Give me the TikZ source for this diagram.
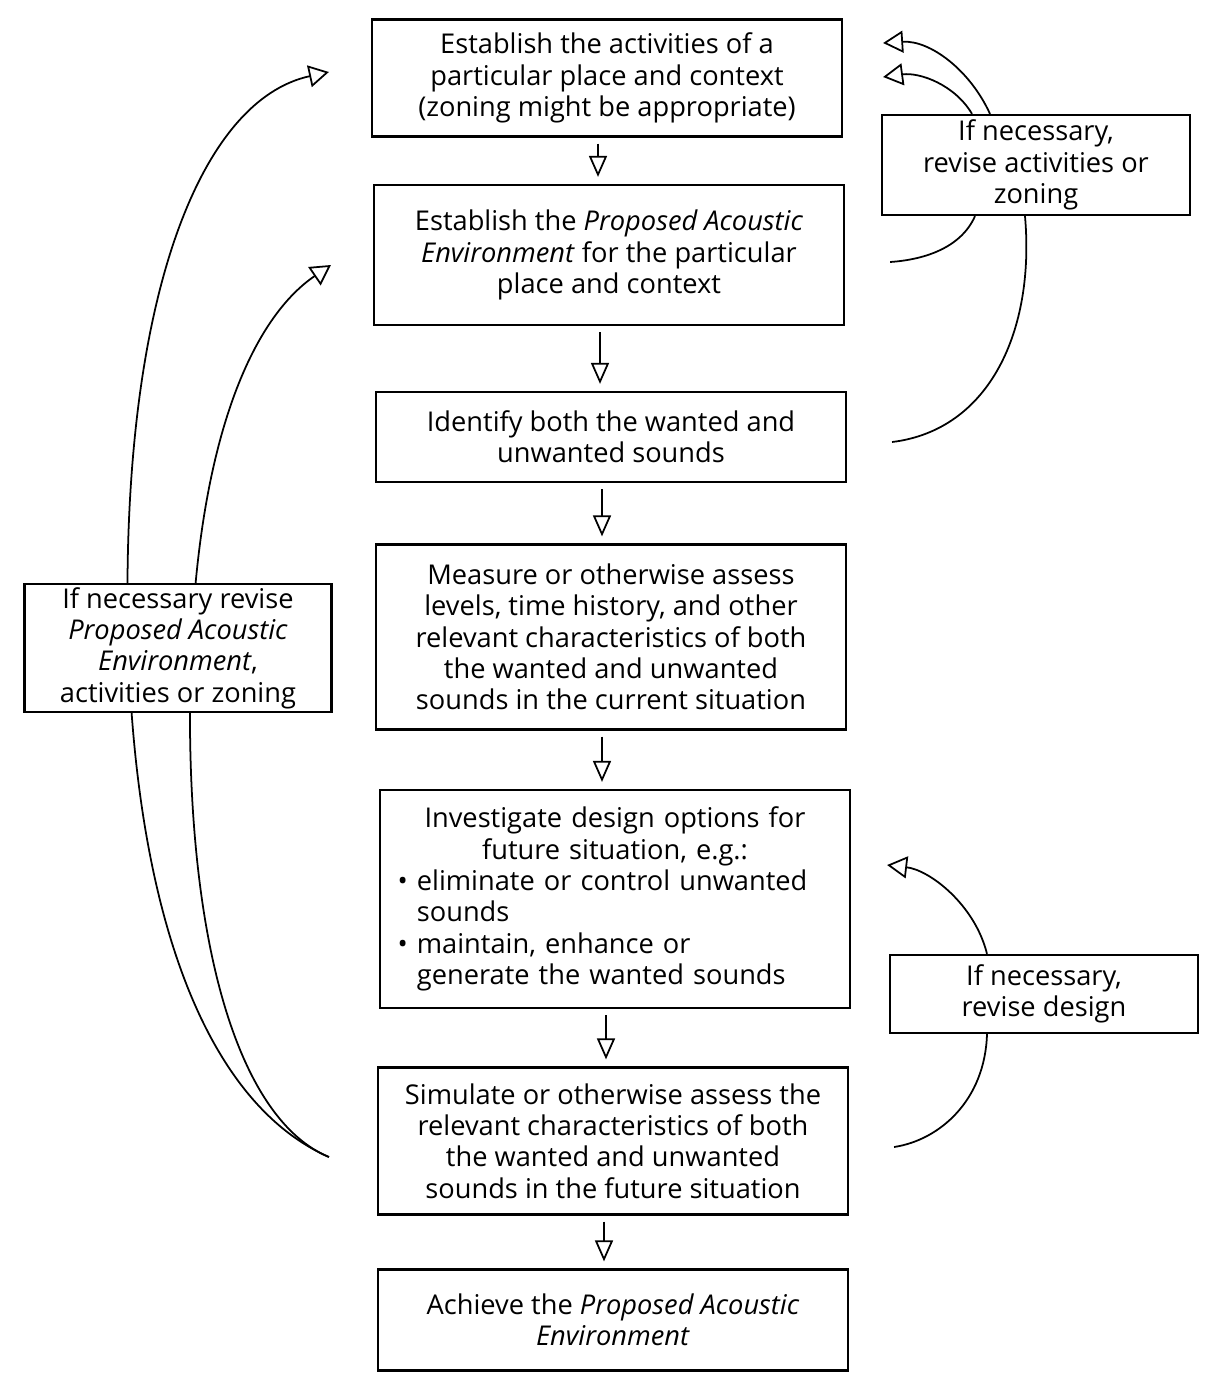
\documentclass[tikz,border=0pt]{standalone}
\usepackage{fontspec}
\setmainfont{Open Sans}
\usetikzlibrary{arrows.meta, calc}

\begin{document}
\begin{tikzpicture}[x=0.02cm, y=-0.02cm,
    stepbox/.style={draw, line width=1.3pt, fill=white, minimum width=9.4cm, align=center, inner sep=2pt, font=\fontsize{15.5}{17.8}\selectfont},
    revbox/.style={draw, line width=1.3pt, fill=white, minimum width=6.15cm, align=center, inner sep=2pt, font=\fontsize{15.5}{17.8}\selectfont},
    downarrow/.style={-{Triangle[open, width=0.36cm, length=0.42cm]}, line width=1pt, shorten <=1.2mm, shorten >=1.4mm},
    backarrow/.style={-{Triangle[open, width=0.44cm, length=0.4cm]}, line width=1pt},
    backline/.style={line width=1pt}]
    \useasboundingbox (0,0) rectangle (1205,1374);

    % Main steps
    \node[stepbox, minimum height=2.34cm] (activities) at (607,78) {Establish the activities of a\\ particular place and context\\ (zoning might be appropriate)};
    \node[stepbox, minimum height=2.8cm] (proposed) at (609,255) {Establish the \textit{Proposed Acoustic}\\ \textit{Environment} for the particular\\ place and context};
    \node[stepbox, minimum height=1.8cm] (identify) at (611,437) {Identify both the wanted and\\ unwanted sounds};
    \node[stepbox, minimum height=3.7cm] (measure) at (611,637) {Measure or otherwise assess\\ levels, time history, and other\\ relevant characteristics of both\\ the wanted and unwanted\\ sounds in the current situation};
    \node[stepbox, minimum height=4.36cm, text width=8.9cm, align=left] (design) at (615,899) {{\centering Investigate design options for\\ future situation, e.g.:\par}\raggedright\hspace*{1mm}\textbullet\ eliminate or control unwanted\\ \hspace*{1mm}\phantom{\textbullet\ }sounds\\ \hspace*{1mm}\textbullet\ maintain, enhance or\\ \hspace*{1mm}\phantom{\textbullet\ }generate the wanted sounds};
    \node[stepbox, minimum height=2.94cm] (simulate) at (613,1141) {Simulate or otherwise assess the\\ relevant characteristics of both\\ the wanted and unwanted\\ sounds in the future situation};
    \node[stepbox, minimum height=2.02cm] (achieve) at (613,1320) {Achieve the \textit{Proposed Acoustic}\\ \textit{Environment}};

    \foreach \a/\b in {activities/proposed, proposed/identify, identify/measure, measure/design, design/simulate, simulate/achieve}
        \draw[downarrow] ([xshift=-0.18cm]\a.south) -- ([xshift=-0.18cm]\a.south |- \b.north);

    % Revision boxes on the right
    \node[revbox, minimum height=2cm] (revzone) at (1036,165) {If necessary,\\ revise activities or\\ zoning};
    \node[revbox, minimum height=1.56cm] (revdesign) at (1044,994) {If necessary,\\ revise design};

    % Free ends of the loops
    \coordinate (actright1) at ($(activities.east)+(40,-35)$);
    \coordinate (actright2) at ($(activities.east)+(40,-1)$);
    \coordinate (propright) at ($(proposed.east)+(45,7)$);
    \coordinate (identright) at ($(identify.east)+(45,5)$);
    \coordinate (designright) at ($(design.east)+(36,-34)$);
    \coordinate (simright) at ($(simulate.east)+(45,6)$);
    \coordinate (simleft) at ($(simulate.west)+(-48,16)$);
    \coordinate (actleft) at ($(activities.west)+(-42,-6)$);
    \coordinate (propleft) at ($(proposed.west)+(-42,10)$);

    % Loops on the right
    \draw[backarrow] ($(revzone.north)+(-46,0)$) .. controls (970,70) and (930,40) .. (actright1);
    \draw[backarrow] ($(revzone.north)+(-64,0)$) .. controls (955,85) and (920,72) .. (actright2);
    \draw[backline] ($(revzone.south)+(-61,0)$) .. controls (960,250) and (920,260) .. (propright);
    \draw[backline] ($(revzone.south)+(-11,0)$) .. controls (1035,330) and (990,430) .. (identright);
    \draw[backarrow] ($(revdesign.north)+(-57,0)$) .. controls (975,905) and (930,870) .. (designright);
    \draw[backline] ($(revdesign.south)+(-57,0)$) .. controls (985,1100) and (940,1140) .. (simright);

    % Loops on the left
    \draw[backarrow] (simleft) .. controls (200,1100) and (135,900) .. (128,640) .. controls (120,300) and (200,100) .. (actleft);
    \draw[backarrow] (simleft) .. controls (240,1120) and (188,950) .. (190,700) .. controls (192,450) and (250,320) .. (propleft);
    \node[revbox, minimum width=6.14cm, minimum height=2.54cm] (revall) at (178,648) {If necessary revise\\ \textit{Proposed Acoustic}\\ \textit{Environment},\\ activities or zoning};
\end{tikzpicture}
\end{document}
